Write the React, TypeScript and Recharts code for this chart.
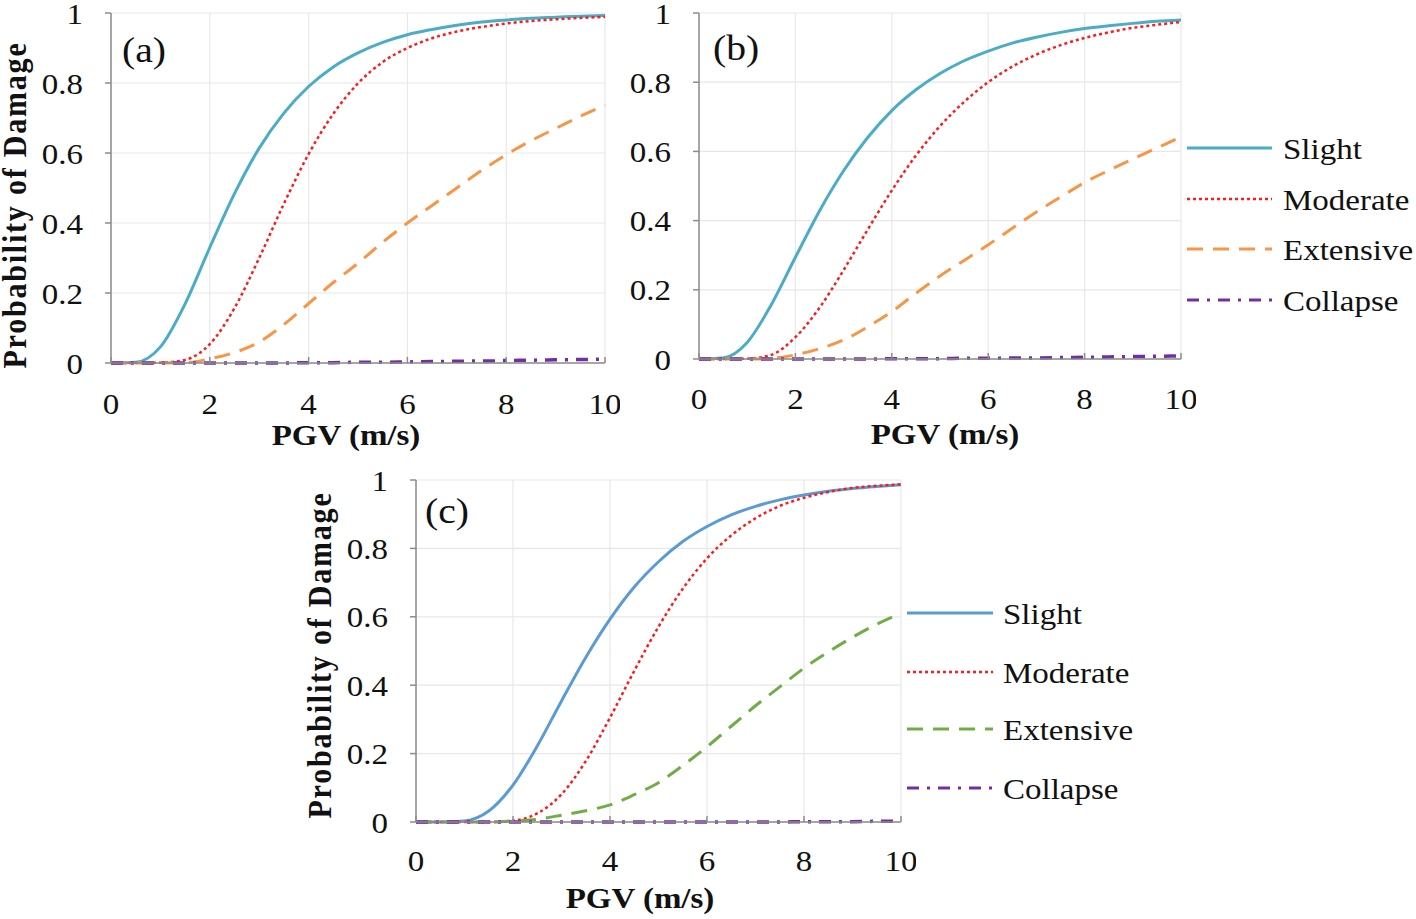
import React from "react";
import { CartesianGrid, Line, LineChart, XAxis, YAxis } from "recharts";

// Fragility curves, probability of damage vs PGV, three building classes.
// Values at 0.5 m/s steps.

const PGV = [0, 0.5, 1, 1.5, 2, 2.5, 3, 3.5, 4, 4.5, 5, 5.5, 6, 6.5, 7, 7.5, 8, 8.5, 9, 9.5, 10];

const SLIGHT_A = [0, 0.002, 0.046, 0.169, 0.33, 0.484, 0.614, 0.714, 0.79, 0.846, 0.886, 0.916, 0.938, 0.953, 0.965, 0.974, 0.98, 0.985, 0.988, 0.991, 0.993];
const MODERATE_A = [0, 0, 0.001, 0.009, 0.054, 0.157, 0.3, 0.455, 0.597, 0.712, 0.799, 0.86, 0.9, 0.928, 0.947, 0.96, 0.97, 0.977, 0.982, 0.986, 0.989];
const EXTENSIVE_A = [0, 0, 0, 0.001, 0.012, 0.03, 0.06, 0.11, 0.17, 0.23, 0.285, 0.345, 0.4, 0.45, 0.5, 0.55, 0.595, 0.635, 0.67, 0.705, 0.737];
const COLLAPSE_A = [0, 0, 0, 0, 0, 0, 0, 0, 0.001, 0.001, 0.002, 0.002, 0.003, 0.004, 0.005, 0.006, 0.007, 0.008, 0.009, 0.01, 0.011];

const SLIGHT_B = [0, 0.003, 0.048, 0.157, 0.294, 0.428, 0.544, 0.64, 0.718, 0.778, 0.825, 0.862, 0.89, 0.913, 0.93, 0.944, 0.955, 0.963, 0.97, 0.976, 0.98];
const MODERATE_B = [0, 0, 0.001, 0.012, 0.063, 0.148, 0.257, 0.374, 0.487, 0.588, 0.673, 0.743, 0.8, 0.845, 0.88, 0.907, 0.928, 0.944, 0.957, 0.966, 0.974];
const EXTENSIVE_B = [0, 0, 0, 0.002, 0.012, 0.03, 0.055, 0.093, 0.137, 0.19, 0.24, 0.285, 0.33, 0.378, 0.425, 0.468, 0.51, 0.545, 0.578, 0.61, 0.642];
const COLLAPSE_B = [0, 0, 0, 0, 0, 0, 0, 0, 0.001, 0.001, 0.001, 0.002, 0.002, 0.003, 0.003, 0.004, 0.005, 0.006, 0.007, 0.008, 0.009];

const SLIGHT_C = [0, 0, 0.003, 0.032, 0.108, 0.222, 0.354, 0.481, 0.593, 0.687, 0.761, 0.82, 0.864, 0.898, 0.923, 0.942, 0.956, 0.967, 0.975, 0.981, 0.986];
const MODERATE_C = [0, 0, 0, 0, 0.004, 0.025, 0.081, 0.178, 0.305, 0.442, 0.571, 0.682, 0.771, 0.838, 0.888, 0.924, 0.948, 0.965, 0.977, 0.983, 0.987];
const EXTENSIVE_C = [0, 0, 0, 0, 0.003, 0.008, 0.02, 0.033, 0.05, 0.08, 0.115, 0.165, 0.22, 0.28, 0.34, 0.395, 0.45, 0.497, 0.54, 0.578, 0.61];
const COLLAPSE_C = [0, 0, 0, 0, 0, 0, 0, 0, 0, 0, 0, 0, 0, 0, 0, 0, 0.001, 0.001, 0.001, 0.002, 0.002];

const X_TICKS = [0, 2, 4, 6, 8, 10];
const Y_TICKS = [0, 0.2, 0.4, 0.6, 0.8, 1];
const STATES = ["Slight", "Moderate", "Extensive", "Collapse"];

const FONT = '"Liberation Serif", "Times New Roman", serif';
const AXIS_GREY = "#8c8c8c";
const GRID_GREY = "#e8e8e8";
const INK = "#111";
// the source figure's text is a little wider than plain Times
const STRETCH = 1.1;

// line style per damage state (dash pattern / width); colours per panel
const DASH: Record<string, string | undefined> = {
  Slight: undefined,
  Moderate: "3 3",
  Extensive: "16 10",
  Collapse: "12 8 3 8",
};
const WIDTH: Record<string, number> = {
  Slight: 3,
  Moderate: 2.5,
  Extensive: 3,
  Collapse: 3.5,
};

const COLORS_TOP: Record<string, string> = {
  Slight: "#4bacc6",
  Moderate: "#ff1a1a",
  Extensive: "#f79646",
  Collapse: "#7030a0",
};
const COLORS_C: Record<string, string> = {
  Slight: "#5b9bd5",
  Moderate: "#ff1a1a",
  Extensive: "#70ad47",
  Collapse: "#7030a0",
};

function buildRows(series: number[][]) {
  return PGV.map((x, i) => {
    const row: Record<string, number> = { pgv: x };
    STATES.forEach((s, k) => {
      row[s] = series[k][i];
    });
    return row;
  });
}

const ROWS_A = buildRows([SLIGHT_A, MODERATE_A, EXTENSIVE_A, COLLAPSE_A]);
const ROWS_B = buildRows([SLIGHT_B, MODERATE_B, EXTENSIVE_B, COLLAPSE_B]);
const ROWS_C = buildRows([SLIGHT_C, MODERATE_C, EXTENSIVE_C, COLLAPSE_C]);

function SText({
  x,
  y,
  size = 30,
  anchor = "start",
  bold = false,
  dy,
  sx = STRETCH,
  children,
}: {
  x: number;
  y: number;
  size?: number;
  anchor?: "start" | "middle" | "end";
  bold?: boolean;
  dy?: string;
  sx?: number;
  children: React.ReactNode;
}) {
  return (
    <text
      transform={`translate(${x},${y}) scale(${sx},1)`}
      x={0}
      y={0}
      dy={dy}
      textAnchor={anchor}
      fontSize={size}
      fontWeight={bold ? "bold" : "normal"}
      fontFamily={FONT}
      fill={INK}
    >
      {children}
    </text>
  );
}

function XTick(props: any) {
  const { x, y, payload } = props;
  return (
    <SText x={x} y={y} anchor="middle" dy="0.71em">
      {String(payload.value)}
    </SText>
  );
}

function YTick(props: any) {
  const { x, y, payload } = props;
  return (
    <SText x={x} y={y} anchor="end" dy="0.35em">
      {String(payload.value)}
    </SText>
  );
}

function Panel({
  rows,
  colors,
  left,
  top,
  width,
  height,
  yAxisWidth,
  marginTop,
  xTickMargin,
}: {
  rows: Record<string, number>[];
  colors: Record<string, string>;
  left: number;
  top: number;
  width: number;
  height: number;
  yAxisWidth: number;
  marginTop: number;
  xTickMargin: number;
}) {
  return (
    <div style={{ position: "absolute", left, top }}>
      <LineChart
        width={width}
        height={height}
        data={rows}
        margin={{ top: marginTop, right: 15, bottom: 0, left: 0 }}
        style={{ fontFamily: FONT }}
      >
        <CartesianGrid stroke={GRID_GREY} strokeWidth={1.2} />
        <XAxis
          dataKey="pgv"
          type="number"
          domain={[0, 10]}
          ticks={X_TICKS}
          height={97}
          tick={<XTick />}
          tickSize={-6}
          tickMargin={xTickMargin}
          axisLine={{ stroke: AXIS_GREY, strokeWidth: 1.5 }}
          tickLine={{ stroke: AXIS_GREY, strokeWidth: 1.5 }}
        />
        <YAxis
          type="number"
          domain={[0, 1]}
          ticks={Y_TICKS}
          width={yAxisWidth}
          tick={<YTick />}
          tickSize={6}
          tickMargin={22}
          axisLine={{ stroke: AXIS_GREY, strokeWidth: 1.5 }}
          tickLine={{ stroke: AXIS_GREY, strokeWidth: 1.5 }}
        />
        {STATES.map((s) => (
          <Line
            key={s}
            type="monotone"
            dataKey={s}
            stroke={colors[s]}
            strokeWidth={WIDTH[s]}
            strokeDasharray={DASH[s]}
            dot={false}
            activeDot={false}
            isAnimationActive={false}
          />
        ))}
      </LineChart>
    </div>
  );
}

function LegendBlock({
  colors,
  x1,
  x2,
  textX,
  rowsY,
}: {
  colors: Record<string, string>;
  x1: number;
  x2: number;
  textX: number;
  rowsY: number[];
}) {
  return (
    <g>
      {STATES.map((s, i) => (
        <g key={s}>
          <line
            x1={x1}
            x2={x2}
            y1={rowsY[i]}
            y2={rowsY[i]}
            stroke={colors[s]}
            strokeWidth={s === "Collapse" ? 3 : WIDTH[s]}
            strokeDasharray={DASH[s]}
          />
          <SText x={textX} y={rowsY[i] + 11}>
            {s}
          </SText>
        </g>
      ))}
    </g>
  );
}

function YTitle({ x, y }: { x: number; y: number }) {
  return (
    <text
      transform={`translate(${x},${y}) rotate(-90) scale(1,${STRETCH})`}
      x={0}
      y={0}
      textAnchor="middle"
      dominantBaseline="central"
      fontSize={30}
      fontWeight="bold"
      fontFamily={FONT}
      letterSpacing={1.8}
      fill={INK}
    >
      Probability  of Damage
    </text>
  );
}

export default function App() {
  return (
    <div
      style={{
        position: "absolute",
        left: 0,
        top: 0,
        width: 1416,
        height: 919,
        background: "#fff",
        overflow: "hidden",
      }}
    >
      <Panel rows={ROWS_A} colors={COLORS_TOP} left={0} top={0} width={620} height={460} yAxisWidth={111} marginTop={13} xTickMargin={36} />
      <Panel rows={ROWS_B} colors={COLORS_TOP} left={620} top={0} width={576} height={456} yAxisWidth={79} marginTop={13} xTickMargin={35} />
      <Panel rows={ROWS_C} colors={COLORS_C} left={300} top={460} width={616} height={459} yAxisWidth={116} marginTop={20} xTickMargin={34} />
      <svg
        width={1416}
        height={919}
        style={{ position: "absolute", left: 0, top: 0, pointerEvents: "none" }}
      >
        <SText x={122} y={62} size={36}>(a)</SText>
        <SText x={713} y={60} size={36}>(b)</SText>
        <SText x={425} y={523} size={36}>(c)</SText>
        <YTitle x={15} y={205} />
        <YTitle x={320} y={655} />
        <SText x={346} y={445} anchor="middle" bold>PGV (m/s)</SText>
        <SText x={945} y={444} anchor="middle" bold>PGV (m/s)</SText>
        <SText x={640} y={908} anchor="middle" bold>PGV (m/s)</SText>
        <LegendBlock colors={COLORS_TOP} x1={1187} x2={1272} textX={1283} rowsY={[148, 199, 249, 300]} />
        <LegendBlock colors={COLORS_C} x1={907} x2={993} textX={1003} rowsY={[613, 672, 729, 788]} />
      </svg>
    </div>
  );
}
